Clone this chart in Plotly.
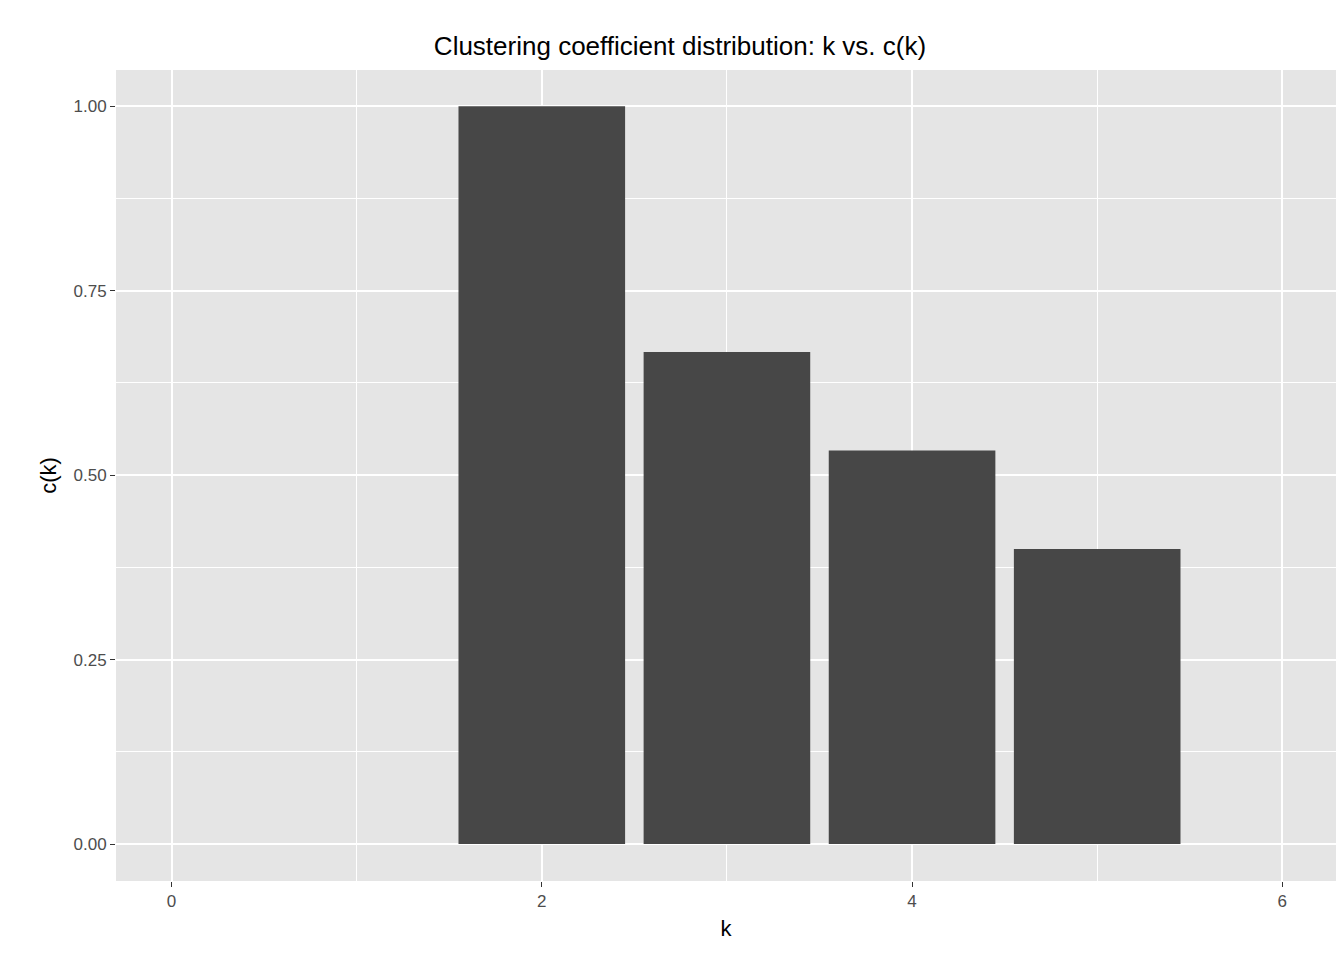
import plotly.graph_objects as go

k = [2, 3, 4, 5]
ck = [1.0, 0.6667, 0.5333, 0.4]

fig = go.Figure(go.Bar(x=k, y=ck, width=0.9, marker=dict(color="#474747", line=dict(width=0))))

fig.update_layout(
    width=1344, height=960,
    margin=dict(l=108, r=16, t=62, b=87),
    paper_bgcolor="white", plot_bgcolor="#e5e5e5",
    font=dict(family="Liberation Sans, Arial", size=17, color="#4d4d4d"),
    title=dict(text="Clustering coefficient distribution: k vs. c(k)", x=0.5, xanchor="center",
               y=0.97, font=dict(size=26, color="black")),
    showlegend=False,
)
fig.update_xaxes(range=[-0.3, 6.29], tickvals=[0, 2, 4, 6], ticks="outside", ticklen=5,
                 tickcolor="#333", gridcolor="white", gridwidth=2.2, zeroline=False,
                 minor=dict(dtick=1, tick0=0, gridcolor="white", gridwidth=1.1, showgrid=True),
                 title=dict(text="k", font=dict(size=22, color="black"), standoff=10))
fig.update_yaxes(range=[-0.05, 1.049], tickvals=[0, 0.25, 0.5, 0.75, 1.0],
                 ticktext=["0.00", "0.25", "0.50", "0.75", "1.00"], ticks="outside", ticklen=5,
                 tickcolor="#333", gridcolor="white", gridwidth=2.2, zeroline=False,
                 minor=dict(dtick=0.125, tick0=0, gridcolor="white", gridwidth=1.1, showgrid=True),
                 title=dict(text="c(k)", font=dict(size=22, color="black"), standoff=10))

fig.write_html("out.html")
